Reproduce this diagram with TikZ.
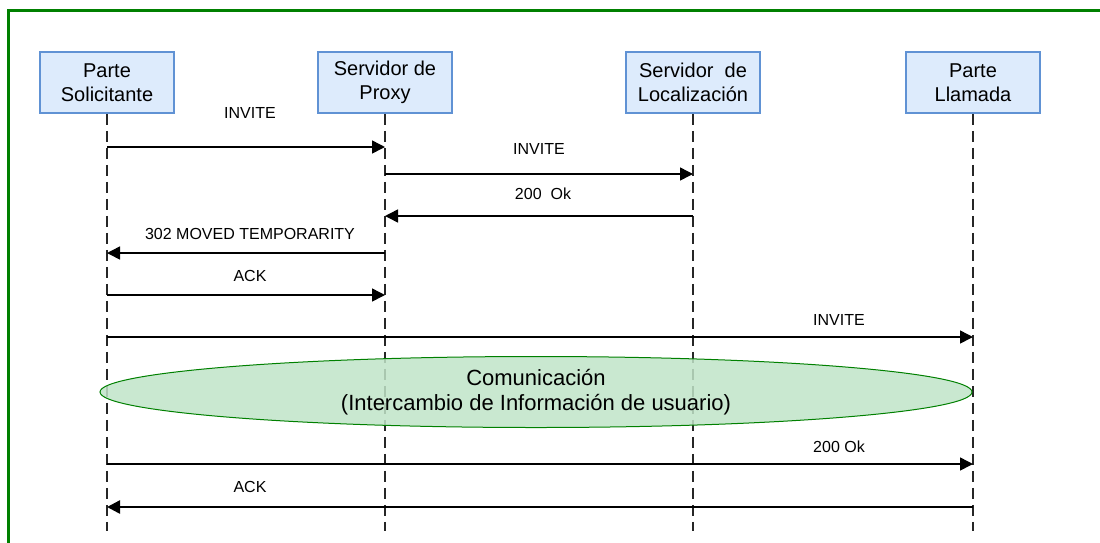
\documentclass[tikz,border=0pt]{standalone}
\usepackage{fontspec}
\setmainfont{Liberation Sans}
\usetikzlibrary{arrows.meta,shapes.geometric}

\definecolor{boxfill}{RGB}{221,235,252}
\definecolor{boxline}{RGB}{96,146,212}
\definecolor{framegreen}{RGB}{0,128,0}
\definecolor{talkfill}{RGB}{192,228,200}

\tikzset{
  actor/.style={draw=boxline, fill=boxfill, line width=1.5pt, minimum width=134pt,
    minimum height=61pt, inner sep=0pt, align=center, font=\fontsize{20}{24.5}\selectfont},
  lifeline/.style={line width=1.6pt, dash pattern=on 11pt off 6pt, black!85},
  msg/.style={line width=1.5pt, -{Triangle[length=13pt,width=13pt]}},
  lbl/.style={font=\fontsize{16}{19}\selectfont, inner sep=0pt},
}

\begin{document}
\begin{tikzpicture}[x=1pt,y=-1pt]
\clip (0,0) rectangle (1100,542);
\fill[white] (0,0) rectangle (1100,542);
\draw[framegreen, line width=2.5pt] (8.5,10.5) rectangle (1120,570);

% actors
\node[actor] (sol)   at (107,82.5) {Parte\\Solicitante};
\node[actor] (proxy) at (385,82.5) {Servidor de\\Proxy};
\node[actor] (loc)   at (693,82.5) {Servidor\ \ de\\Localización};
\node[actor] (call)  at (973,82.5) {Parte\\Llamada};

% lifelines
\foreach \n in {sol,proxy,loc,call}
  \draw[lifeline] (\n.south) -- (\n.south |- 0,531);

% messages
\draw[msg] (sol.south |- 0,147) -- (proxy.south |- 0,147);
\node[lbl] (m1) at (250,113) {INVITE};
\draw[msg] (proxy.south |- 0,174) -- (loc.south |- 0,174);
\node[lbl] (m2) at (539,149) {INVITE};
\draw[msg] (loc.south |- 0,216) -- (proxy.south |- 0,216);
\node[lbl] (m3) at (543,194) {200\ \ Ok};
\draw[msg] (proxy.south |- 0,253) -- (sol.south |- 0,253);
\node[lbl] (m4) at (250,234) {302 MOVED TEMPORARITY};
\draw[msg] (sol.south |- 0,295) -- (proxy.south |- 0,295);
\node[lbl] (m5) at (250,276) {ACK};
\draw[msg] (sol.south |- 0,337) -- (call.south |- 0,337);
\node[lbl] (m6) at (839,320) {INVITE};

% session
\node[ellipse, draw=framegreen, line width=1pt, fill=talkfill, fill opacity=0.85,
  text opacity=1, minimum width=872pt, minimum height=71pt, inner sep=0pt, align=center,
  font=\fontsize{22}{25}\selectfont] (talk) at (536,392)
  {Comunicación\\(Intercambio de Información de usuario)};

\draw[msg] (sol.south |- 0,464) -- (call.south |- 0,464);
\node[lbl] (m7) at (839,446.5) {200 Ok};
\draw[msg, line width=2.5pt] (call.south |- 0,507) -- (sol.south |- 0,507);
\node[lbl] (m8) at (250,487) {ACK};
\end{tikzpicture}
\end{document}
